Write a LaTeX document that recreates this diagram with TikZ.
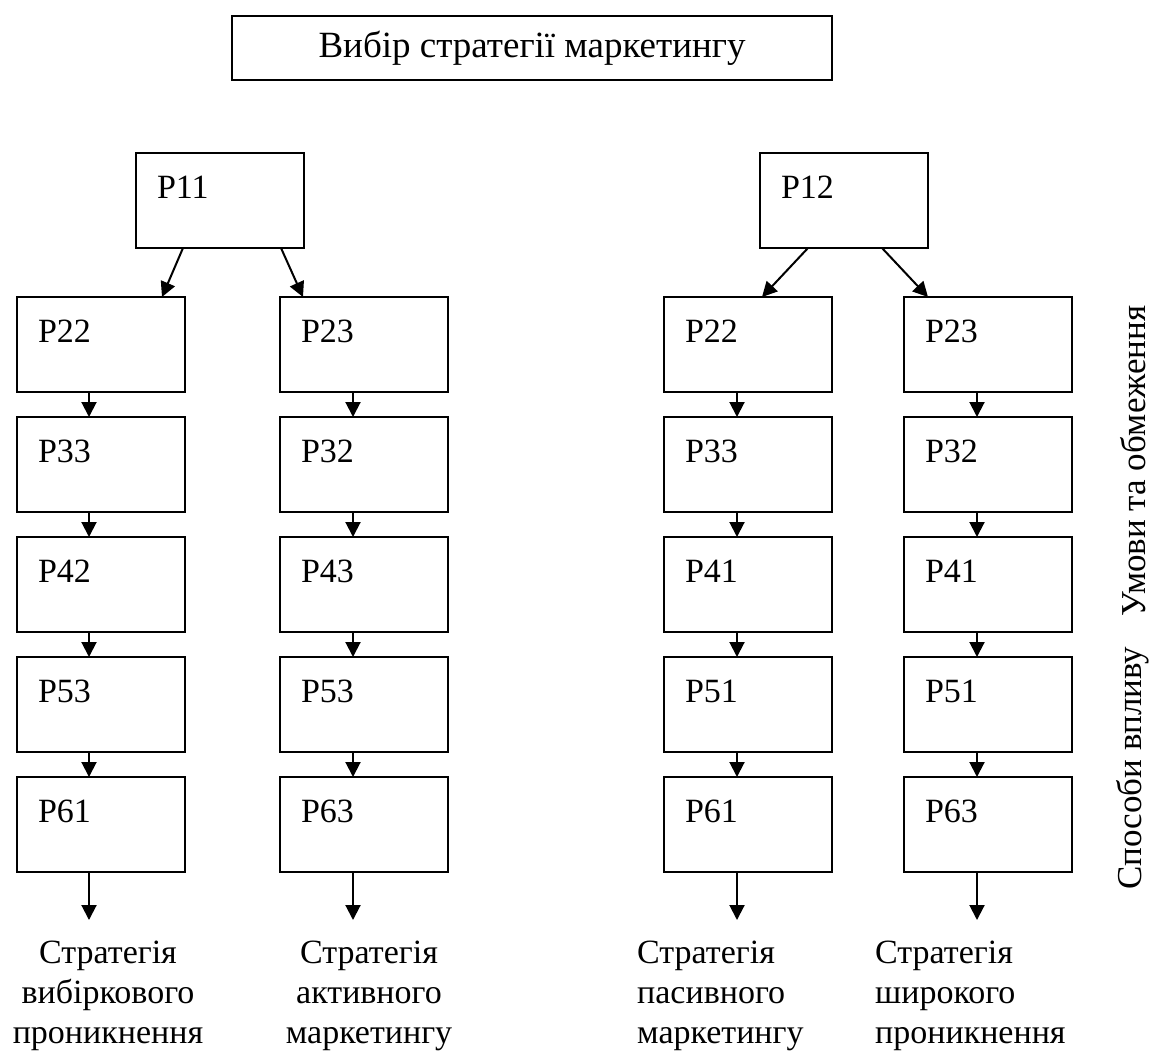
\documentclass[tikz,border=0pt]{standalone}
\usepackage{fontspec}
\setmainfont{Liberation Serif}
\usetikzlibrary{positioning,arrows.meta}

\tikzset{
  pbox/.style={draw, line width=2pt, outer sep=0pt, inner xsep=21pt, inner ysep=0pt,
    text width=126pt, align=left, text height=45pt, text depth=50pt,
    font=\fontsize{34}{40}\selectfont},
  arr/.style={line width=2pt, -{Triangle[length=15pt,width=15pt]}},
  res/.style={inner sep=0pt, anchor=base, font=\fontsize{34}{40}\selectfont}
}

\begin{document}
\begin{tikzpicture}[x=1pt, y=1pt]
    \useasboundingbox (0,0) rectangle (1153,-1050);
    % Title
    \node[draw, line width=1.6pt, minimum width=600pt, minimum height=64pt,
      font=\fontsize{37}{44}\selectfont] (title) at (532,-48) {Вибір стратегії маркетингу};

    % Root nodes
    \node[pbox, anchor=north west] (r1) at (136,-153) {P11};
    \node[pbox, anchor=north west] (r2) at (760,-153) {P12};

    % First column
    \node[pbox, anchor=north west] (a1) at (17,-297) {P22};
    \node[pbox, below=25pt of a1] (a2) {P33};
    \node[pbox, below=25pt of a2] (a3) {P42};
    \node[pbox, below=25pt of a3] (a4) {P53};
    \node[pbox, below=25pt of a4] (a5) {P61};

    % Second column
    \node[pbox, anchor=north west] (b1) at (280,-297) {P23};
    \node[pbox, below=25pt of b1] (b2) {P32};
    \node[pbox, below=25pt of b2] (b3) {P43};
    \node[pbox, below=25pt of b3] (b4) {P53};
    \node[pbox, below=25pt of b4] (b5) {P63};

    % Third column
    \node[pbox, anchor=north west] (c1) at (664,-297) {P22};
    \node[pbox, below=25pt of c1] (c2) {P33};
    \node[pbox, below=25pt of c2] (c3) {P41};
    \node[pbox, below=25pt of c3] (c4) {P51};
    \node[pbox, below=25pt of c4] (c5) {P61};

    % Fourth column
    \node[pbox, anchor=north west] (d1) at (904,-297) {P23};
    \node[pbox, below=25pt of d1] (d2) {P32};
    \node[pbox, below=25pt of d2] (d3) {P41};
    \node[pbox, below=25pt of d3] (d4) {P51};
    \node[pbox, below=25pt of d4] (d5) {P63};

    % Arrows from the roots
    \draw[arr] ([xshift=47pt]r1.south west) -- ([xshift=145pt]a1.north west);
    \draw[arr] ([xshift=145pt]r1.south west) -- ([xshift=23pt]b1.north west);
    \draw[arr] ([xshift=48pt]r2.south west) -- ([xshift=98pt]c1.north west);
    \draw[arr] ([xshift=122pt]r2.south west) -- ([xshift=24pt]d1.north west);

    % Arrows down the columns
    \path[arr]
      ([xshift=72pt]a1.south west) edge ([xshift=72pt]a2.north west)
      ([xshift=72pt]a2.south west) edge ([xshift=72pt]a3.north west)
      ([xshift=72pt]a3.south west) edge ([xshift=72pt]a4.north west)
      ([xshift=72pt]a4.south west) edge ([xshift=72pt]a5.north west)
      ([xshift=73pt]b1.south west) edge ([xshift=73pt]b2.north west)
      ([xshift=73pt]b2.south west) edge ([xshift=73pt]b3.north west)
      ([xshift=73pt]b3.south west) edge ([xshift=73pt]b4.north west)
      ([xshift=73pt]b4.south west) edge ([xshift=73pt]b5.north west)
      ([xshift=73pt]c1.south west) edge ([xshift=73pt]c2.north west)
      ([xshift=73pt]c2.south west) edge ([xshift=73pt]c3.north west)
      ([xshift=73pt]c3.south west) edge ([xshift=73pt]c4.north west)
      ([xshift=73pt]c4.south west) edge ([xshift=73pt]c5.north west)
      ([xshift=73pt]d1.south west) edge ([xshift=73pt]d2.north west)
      ([xshift=73pt]d2.south west) edge ([xshift=73pt]d3.north west)
      ([xshift=73pt]d3.south west) edge ([xshift=73pt]d4.north west)
      ([xshift=73pt]d4.south west) edge ([xshift=73pt]d5.north west);

    % Free ends of the last arrows
    \coordinate (ea) at ([xshift=72pt,yshift=-48pt]a5.south west);
    \coordinate (eb) at ([xshift=73pt,yshift=-48pt]b5.south west);
    \coordinate (ec) at ([xshift=73pt,yshift=-48pt]c5.south west);
    \coordinate (ed) at ([xshift=73pt,yshift=-48pt]d5.south west);
    \draw[arr] ([xshift=72pt]a5.south west) -- (ea);
    \draw[arr] ([xshift=73pt]b5.south west) -- (eb);
    \draw[arr] ([xshift=73pt]c5.south west) -- (ec);
    \draw[arr] ([xshift=73pt]d5.south west) -- (ed);

    % Resulting strategies
    \node[res, align=center] (sa) at (108,-1043) {Стратегія\\вибіркового\\проникнення};
    \node[res, align=center] (sb) at (369,-1043) {Стратегія\\активного\\маркетингу};
    \node[res, align=left, anchor=base west] (sc) at (637,-1043) {Стратегія\\пасивного\\маркетингу};
    \node[res, align=left, anchor=base west] (sd) at (875,-1043) {Стратегія\\широкого\\проникнення};

    % Side captions
    \node[rotate=90, font=\fontsize{35}{40}\selectfont] (cond) at (1133,-461) {Умови та обмеження};
    \node[rotate=90, font=\fontsize{35}{40}\selectfont] (ways) at (1133,-768) {Способи впливу};
\end{tikzpicture}
\end{document}
